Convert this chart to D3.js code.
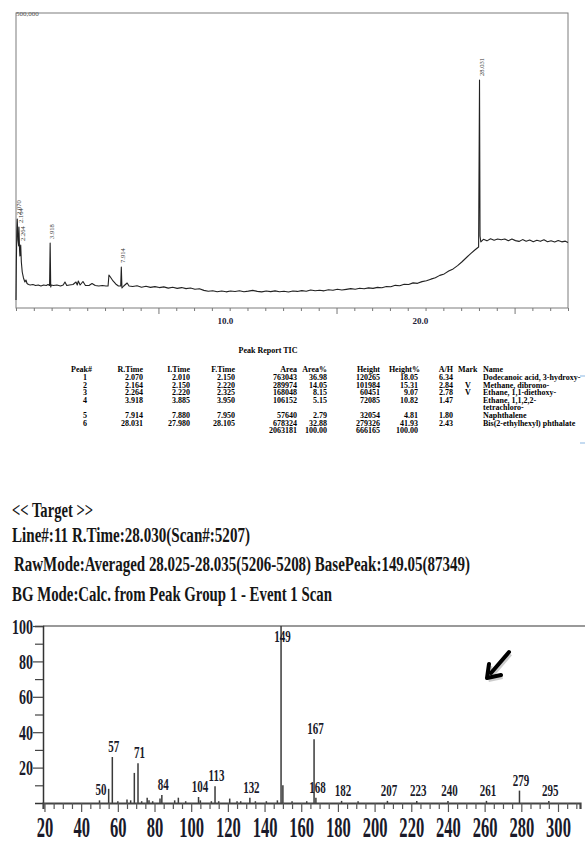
<!DOCTYPE html>
<html>
<head>
<meta charset="utf-8">
<script src="https://d3js.org/d3.v7.min.js"></script>
<style>
  body { margin: 0; background: #fff; }
  svg { display: block; font-family: "Liberation Serif", "Times New Roman", serif; }
</style>
</head>
<body>
<svg id="chart" width="585" height="842"></svg>
<script>
// TIC trace (min, counts)
const ticTime = [2.00, 2.02, 2.045, 2.07, 2.11, 2.15, 2.164, 2.20, 2.22, 2.264, 2.30, 2.35, 2.42, 2.50, 2.56, 2.62,
  2.70, 2.80, 2.95, 3.10, 3.25, 3.40, 3.55, 3.70, 3.80, 3.885, 3.918, 3.95, 3.98, 4.10, 4.30, 4.50, 4.65, 4.75,
  4.85, 5.00, 5.20, 5.37, 5.44, 5.50, 5.60, 5.76, 5.90, 6.10, 6.27, 6.45, 6.65, 6.85, 7.05, 7.17, 7.22, 7.30,
  7.45, 7.60, 7.75, 7.88, 7.914, 7.95, 8.05, 8.24, 8.35,
  8.55, 8.80, 9.05, 9.30, 9.55, 9.80, 10.05, 10.30, 10.55, 10.80, 11.05, 11.30, 11.55, 11.80, 12.05, 12.30,
  12.55, 12.80, 13.05, 13.30, 13.55, 13.80, 14.05, 14.30, 14.55, 14.80, 15.05, 15.30, 15.55, 15.80, 16.05, 16.30,
  16.55, 16.80, 17.05, 17.30, 17.55, 17.80, 18.05, 18.30, 18.55, 18.80, 19.05, 19.30, 19.55, 19.80, 20.05, 20.30,
  20.55, 20.80, 21.05, 21.30, 21.55, 21.80, 22.05, 22.30, 22.55, 22.80, 23.05, 23.30, 23.55, 23.80, 24.05, 24.30,
  24.55, 24.80,
  25.05, 25.30, 25.55, 25.80, 26.05, 26.30, 26.55, 26.80, 27.05, 27.30, 27.55, 27.80, 27.98, 28.031, 28.06, 28.105,
  28.25, 28.45, 28.65, 28.85, 29.05, 29.25, 29.45, 29.65, 29.85, 30.05, 30.25, 30.45, 30.65, 30.85, 31.05, 31.25,
  31.45, 31.65, 31.85, 32.05, 32.25, 32.45, 32.65, 32.85, 33.00];
const ticCounts = [13600, 78000, 128800, 150900, 115300, 105100, 137300, 98300, 88100, 106800, 78000, 61000, 50900,
  44100, 47500, 41500, 39800, 39000, 39800, 38100, 39000, 37300, 39000, 38100, 39800, 38100, 110200, 35600, 39000,
  38100, 39000, 37300, 39000, 44100, 38100, 39000, 39800, 44100, 39000, 45800, 39000, 44900, 38100, 38100, 41500,
  38100, 37300, 38100, 37300, 37300, 55900, 52500, 45800, 40700, 37300, 37300, 69500, 33900, 37300, 42400, 37300,
  36400, 37600, 35300, 36800, 35000, 36200, 34600, 35800, 33700, 35100, 33300, 34600, 32900, 33800, 31900, 32500,
  29900, 28400, 29300, 27600, 28900, 27400, 28700, 27900, 29100, 27500, 28600, 29900, 28200, 27300, 28800, 27700,
  29000, 27600, 28300, 27200, 28900, 28100, 29400, 28400, 30600, 29300, 30200, 29100, 31000, 30000, 31800, 30400,
  31600, 32800, 31900, 33400, 32500, 34100, 33300, 35000, 34200, 36400, 35900, 38400, 37800, 40300, 39800, 42600,
  41800, 44700,
  46200, 48900, 51200, 55300, 57800, 62600, 66300, 71800, 78400, 85600, 92700, 99200, 103400, 386500, 122000, 111900,
  116500, 113800, 117400, 114900, 116900, 115600, 117000, 113900, 116800, 114200, 112900, 115900, 113300, 115200,
  112400, 114800, 113000, 115600, 112200, 113900, 111800, 114500, 112100, 113300, 111000];

// Peak Report TIC
const peakNo = [1, 2, 3, 4, 5, 6];
const rTime = [2.070, 2.164, 2.264, 3.918, 7.914, 28.031];
const iTime = [2.010, 2.150, 2.220, 3.885, 7.880, 27.980];
const fTime = [2.150, 2.220, 2.325, 3.950, 7.950, 28.105];
const area = [763043, 289974, 168048, 106152, 57640, 678324];
const areaPct = [36.98, 14.05, 8.15, 5.15, 2.79, 32.88];
const peakHeight = [120265, 101984, 60451, 72085, 32054, 279326];
const heightPct = [18.05, 15.31, 9.07, 10.82, 4.81, 41.93];
const ahRatio = [6.34, 2.84, 2.78, 1.47, 1.80, 2.43];
const mark = ["", "V", "V", "", "", ""];
const compound = ["Dodecanoic acid, 3-hydroxy-", "Methane, dibromo-", "Ethane, 1,1-diethoxy-",
  "Ethane, 1,1,2,2-\ntetrachloro-", "Naphthalene", "Bis(2-ethylhexyl) phthalate"];

// mass spectrum at R.Time 28.030 (m/z, relative intensity %)
const msMz = [50, 55, 57, 60, 65, 67, 69, 71, 73, 76, 77, 79, 83, 84, 91, 93, 97, 104, 105, 111,
  113, 115, 121, 125, 127, 132, 135, 141, 147, 149, 150, 155, 163, 167, 168, 182, 191, 207, 223, 240,
  261, 279, 295];
const msInt = [1.5, 8, 26, 1, 2, 1.5, 17, 22.5, 1, 3, 1.5, 1, 2.5, 4.5, 1.5, 3, 1, 3.4, 1.5, 1,
  9.5, 1, 2.5, 1, 1, 3, 1, 1, 1.5, 100, 10, 1, 1, 36, 3, 1.2, 1, 1.2, 1.2, 1.2,
  1.2, 7, 1.2];
const msLabeled = [50, 57, 71, 84, 104, 113, 132, 149, 167, 168, 182, 207, 223, 240, 261, 279, 295];

const specHeader = ["<< Target >>", "Line#:11 R.Time:28.030(Scan#:5207)",
  "RawMode:Averaged 28.025-28.035(5206-5208) BasePeak:149.05(87349)",
  "BG Mode:Calc. from Peak Group 1 - Event 1 Scan"];

const svg = d3.select("#chart");
const tall = 1.5;   // printout glyphs are stretched vertically

// ---------- chromatogram ----------
const x = d3.scaleLinear().domain([2, 33]).range([16, 568]);
const y = d3.scaleLinear().domain([0, 500000]).range([308, 13]);
// the printed tick labels sit off the tick marks in the source
const xLabel = d3.scaleLinear().domain([0, 27.8]).range([30, 572]);

svg.append("rect")
    .attr("x", x.range()[0]).attr("y", y.range()[1])
    .attr("width", x.range()[1] - x.range()[0])
    .attr("height", y.range()[0] - y.range()[1])
    .attr("fill", "none").attr("stroke", "#7d7d7d").attr("stroke-width", 1);

const tAxis = svg.append("g")
    .attr("transform", `translate(0,${y.range()[0]})`)
    .call(d3.axisBottom(x).tickValues(d3.range(2, 34)).tickSize(3).tickSizeOuter(0).tickFormat(""));
tAxis.select(".domain").remove();
tAxis.selectAll(".tick text").remove();
tAxis.selectAll(".tick line").attr("stroke", "#777")
    .attr("y2", (d) => d % 10 === 0 ? 6 : 3);

const tLab = svg.append("g")
    .attr("transform", `translate(0,${y.range()[0]})`)
    .call(d3.axisBottom(xLabel).tickValues([10, 20]).tickSize(0).tickFormat(d3.format(".1f")));
tLab.select(".domain").remove();
tLab.selectAll("text")
    .attr("y", 16).attr("dy", null)
    .attr("font-family", "Liberation Serif").attr("font-weight", "bold")
    .attr("font-size", 9).attr("fill", "#222238");

svg.append("text")
    .attr("x", 16).attr("y", 15.5)
    .attr("font-size", 7).attr("fill", "#555")
    .text(d3.format(",")(y.domain()[1]));

const n = Math.min(ticTime.length, ticCounts.length);
const tic = ticTime.slice(0, n).map((t, i) => [t, ticCounts[i]]);
svg.append("path")
    .datum(tic)
    .attr("fill", "none").attr("stroke", "#222").attr("stroke-width", 1.1)
    .attr("stroke-linejoin", "round")
    .attr("d", d3.line().x((d) => x(d[0])).y((d) => y(d[1])));

// rotated retention-time labels above each peak apex
rTime.forEach((rt, i) => {
  const apex = d3.max(tic.filter((d) => d[0] >= iTime[i] && d[0] <= fTime[i]), (d) => d[1]);
  svg.append("text")
      .attr("transform", `translate(${x(rt) + 4},${y(apex) - 4}) rotate(-90)`)
      .attr("font-size", 6.5).attr("fill", "#333")
      .text(rt.toFixed(3));
});

// ---------- peak table ----------
const tableCols = [
  {head: "Peak#", hx: 92, vx: 87, anchor: "end", fmt: (i) => peakNo[i]},
  {head: "R.Time", hx: 143, vx: 143, anchor: "end", fmt: (i) => rTime[i].toFixed(3)},
  {head: "I.Time", hx: 190, vx: 190, anchor: "end", fmt: (i) => iTime[i].toFixed(3)},
  {head: "F.Time", hx: 235, vx: 235, anchor: "end", fmt: (i) => fTime[i].toFixed(3)},
  {head: "Area", hx: 297, vx: 297, anchor: "end", fmt: (i) => area[i]},
  {head: "Area%", hx: 327, vx: 327, anchor: "end", fmt: (i) => areaPct[i].toFixed(2)},
  {head: "Height", hx: 380, vx: 380, anchor: "end", fmt: (i) => peakHeight[i]},
  {head: "Height%", hx: 420, vx: 418, anchor: "end", fmt: (i) => heightPct[i].toFixed(2)},
  {head: "A/H", hx: 453, vx: 453, anchor: "end", fmt: (i) => ahRatio[i].toFixed(2)},
  {head: "Mark", hx: 458, vx: 468, anchor: "start", vAnchor: "middle", fmt: (i) => mark[i]},
  {head: "Name", hx: 483, vx: 483, anchor: "start", fmt: (i) => compound[i]}
];

const table = svg.append("g")
    .attr("font-weight", "bold").attr("font-size", 8).attr("fill", "#000");

function cell(x0, y0, anchor, str) {
  if (str === "") return;
  table.append("text")
      .attr("x", x0).attr("y", y0)
      .attr("text-anchor", anchor)
      .text(str);
}

cell(268, 353, "middle", "Peak Report TIC");
tableCols.forEach((c) => cell(c.hx, 372, c.anchor, c.head));

const rowTop = 380, lineH = 7.6;
let line = 0;
peakNo.forEach((p, i) => {
  const yRow = rowTop + line * lineH;
  tableCols.forEach((c) => {
    String(c.fmt(i)).split("\n")
        .forEach((part, k) => cell(c.vx, yRow + k * lineH, c.vAnchor || c.anchor, part));
  });
  line += compound[i].split("\n").length;
});
const yTot = rowTop + line * lineH;
const areaSum = d3.sum(area), heightSum = d3.sum(peakHeight);
cell(297, yTot, "end", areaSum);
cell(327, yTot, "end", d3.sum(area, (a) => a / areaSum * 100).toFixed(2));
cell(380, yTot, "end", heightSum);
cell(418, yTot, "end", d3.sum(peakHeight, (h) => h / heightSum * 100).toFixed(2));

// small table border remnants at the right edge
[376, 443].forEach((yy) => {
  svg.append("line").attr("x1", 580).attr("x2", 585).attr("y1", yy).attr("y2", yy)
      .attr("stroke", "#9fc4e8").attr("stroke-width", 1.2);
});

// ---------- spectrum header ----------
const headY = [517, 542, 571, 601], headW = [81, 238, 456, 320], headX = [12, 12, 14, 12];
specHeader.forEach((s, i) => {
  svg.append("text")
      .attr("transform", `translate(${headX[i]},${headY[i]}) scale(1,1.35)`)
      .attr("font-size", 15).attr("font-weight", "bold").attr("fill", "#161616")
      .attr("textLength", headW[i]).attr("lengthAdjust", "spacingAndGlyphs")
      .text(s);
});

// ---------- mass spectrum ----------
const mx = d3.scaleLinear().domain([19.2, 312]).range([43, 580]);
const my = d3.scaleLinear().domain([0, 100]).range([803, 626]);

svg.append("line")
    .attr("x1", mx.range()[0]).attr("x2", 585)
    .attr("y1", my.range()[1]).attr("y2", my.range()[1])
    .attr("stroke", "#777").attr("stroke-width", 1.5);

svg.selectAll(".stick")
  .data(msMz.map((m, i) => ({mz: m, v: msInt[i]})))
  .enter().append("line")
    .attr("class", "stick")
    .attr("x1", (d) => mx(d.mz)).attr("x2", (d) => mx(d.mz))
    .attr("y1", my(0)).attr("y2", (d) => my(d.v))
    .attr("stroke", "#3a3a3a").attr("stroke-width", 1.5);

const yAx = svg.append("g")
    .attr("transform", `translate(${mx.range()[0]},0)`)
    .call(d3.axisLeft(my).tickValues(d3.range(10, 101, 10)).tickSizeOuter(0).tickSize(8)
      .tickFormat((d) => d % 20 === 0 ? d : ""));
yAx.select(".domain").attr("stroke", "#333").attr("stroke-width", 1.5);
yAx.selectAll(".tick line").attr("stroke", "#444").attr("stroke-width", 1.2)
    .attr("x2", (d) => d % 20 === 0 ? -10 : -8);
yAx.selectAll(".tick text").filter((d) => d % 20 !== 0).remove();
yAx.selectAll(".tick text")
    .attr("x", -10).attr("y", 0).attr("dy", "0.34em")
    .attr("transform", `scale(1,${tall})`)
    .attr("font-family", "Liberation Serif").attr("font-weight", "bold")
    .attr("font-size", 14).attr("fill", "#1a1a2a");

const xAx = svg.append("g")
    .attr("transform", `translate(0,${my(0)})`)
    .call(d3.axisBottom(mx).tickValues(d3.range(20, 311, 5)).tickSizeOuter(0).tickSize(6)
      .tickFormat((d) => d % 20 === 0 ? d : ""));
xAx.select(".domain").attr("stroke", "#444").attr("stroke-width", 2.2);
xAx.selectAll(".tick line").attr("stroke", "#555").attr("stroke-width", 1.2)
    .attr("y2", (d) => d % 20 === 0 ? 9 : 6);
xAx.selectAll(".tick text").filter((d) => d % 20 !== 0).remove();
xAx.selectAll(".tick text")
    .attr("y", 34 / 1.6).attr("dy", null)
    .attr("transform", "scale(0.92,1.6)")
    .attr("font-family", "Liberation Serif").attr("font-weight", "bold")
    .attr("font-size", 18).attr("fill", "#1a1a2a");

// peak m/z labels
svg.selectAll(".mzlab")
  .data(msLabeled)
  .enter().append("text")
    .attr("class", "mzlab")
    .attr("transform", (m) => {
      const ly = Math.max(my(msInt[msMz.indexOf(m)]) - 5, my(100) + 16);
      return `translate(${mx(m) + 1.5},${ly}) scale(1,${tall})`;
    })
    .attr("text-anchor", "middle")
    .attr("font-size", 11).attr("font-weight", "bold").attr("fill", "#1a1a2a")
    .text((m) => m);

// arrow annotation
const arrow = svg.append("g");
arrow.append("path")
    .attr("d", "M509,652 L491,673 M487,678 L489,664 M487,678 L501,675")
    .attr("transform", "translate(1.5,2)")
    .attr("stroke", "#999").attr("stroke-width", 4).attr("fill", "none").attr("opacity", 0.5);
arrow.append("path")
    .attr("d", "M509,652 L491,673 M487,678 L489,664 M487,678 L501,675")
    .attr("stroke", "#000").attr("stroke-width", 4).attr("stroke-linecap", "round").attr("fill", "none");
</script>
</body>
</html>
